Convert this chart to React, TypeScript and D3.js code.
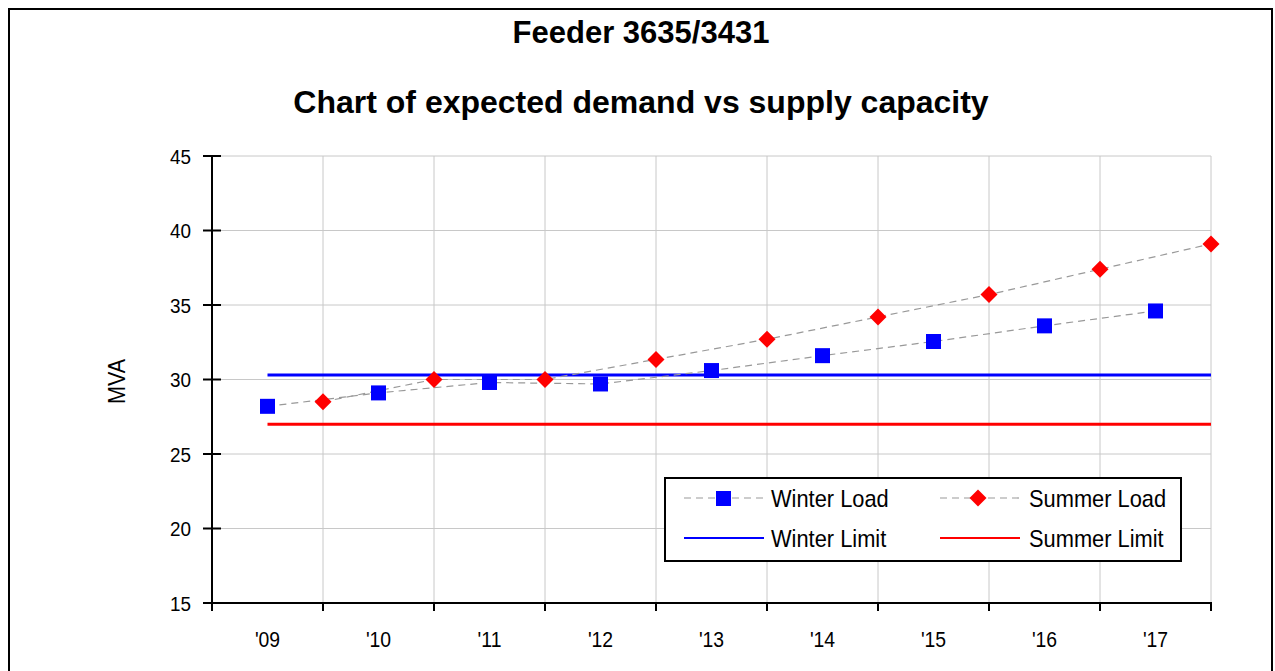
import React from "react";
import * as d3 from "d3";

const years = [2009, 2010, 2011, 2012, 2013, 2014, 2015, 2016, 2017];
const yearLabels = ["'09", "'10", "'11", "'12", "'13", "'14", "'15", "'16", "'17"];
const winterLoad = [28.2, 29.1, 29.8, 29.7, 30.6, 31.6, 32.55, 33.6, 34.6];
const summerLoad = [28.5, 30.0, 30.0, 31.35, 32.7, 34.2, 35.7, 37.4, 39.1];
const winterLimit = 30.3;
const summerLimit = 27.0;
const yTicks = [15, 20, 25, 30, 35, 40, 45];

const W = 1275;
const H = 671;
const left = 212, right = 1211, top = 156, bottom = 603;

const arial = "'Liberation Sans', Arial, sans-serif";

function NText(props: { x: number; y: number; size: number; sx?: number; anchor?: string; children: React.ReactNode }) {
  const sx = props.sx ?? 0.9;
  return (
    <text
      transform={`translate(${props.x},${props.y}) scale(${sx},1)`}
      textAnchor={props.anchor ?? "start"}
      fontFamily={arial}
      fontSize={props.size}
      fill="#000"
    >
      {props.children}
    </text>
  );
}

export default function App() {
  const x = d3.scaleLinear().domain([2008.5, 2017.5]).range([left, right]);
  const y = d3.scaleLinear().domain([15, 45]).range([bottom, top]);

  const winterPts: [number, number][] = years.map((yr, i) => [x(yr), y(winterLoad[i])]);
  const summerPts: [number, number][] = years.map((yr, i) => [x(yr + 0.5), y(summerLoad[i])]);
  const line = d3.line();
  const gridX = d3.range(2008.5, 2017.6, 1);

  const diamond = (cx: number, cy: number, r: number) =>
    `M${cx},${cy - r}L${cx + r},${cy}L${cx},${cy + r}L${cx - r},${cy}Z`;

  const limitX0 = x(years[0]);
  const limitX1 = x(2017.5);

  return (
    <svg width={W} height={H} style={{ position: "absolute", left: 0, top: 0, background: "#fff" }}>
      <rect x={9} y={9} width={1263} height={H} fill="#fff" stroke="#000" strokeWidth={2} />
      <text x={641} y={43} textAnchor="middle" fontFamily={arial} fontWeight="bold" fontSize={31}>
        Feeder 3635/3431
      </text>
      <text x={641} y={113} textAnchor="middle" fontFamily={arial} fontWeight="bold" fontSize={32}>
        Chart of expected demand vs supply capacity
      </text>

      {/* gridlines */}
      {yTicks.map((t) => (
        <line key={"gy" + t} x1={left} x2={right} y1={y(t)} y2={y(t)} stroke="#c8c8c8" strokeWidth={1} />
      ))}
      {gridX.map((g) => (
        <line key={"gx" + g} x1={x(g)} x2={x(g)} y1={top} y2={bottom} stroke="#c8c8c8" strokeWidth={1} />
      ))}

      {/* limits */}
      <line x1={limitX0} x2={limitX1} y1={y(winterLimit)} y2={y(winterLimit)} stroke="#0000ff" strokeWidth={3} />
      <line x1={limitX0} x2={limitX1} y1={y(summerLimit)} y2={y(summerLimit)} stroke="#ff0000" strokeWidth={3} />

      {/* load lines */}
      <path d={line(winterPts) || ""} fill="none" stroke="#999" strokeWidth={1.2} strokeDasharray="7,5" />
      <path d={line(summerPts) || ""} fill="none" stroke="#999" strokeWidth={1.2} strokeDasharray="7,5" />
      {winterPts.map(([cx, cy], i) => (
        <rect key={"w" + i} x={cx - 7.5} y={cy - 7.5} width={15} height={15} fill="#0000ff" />
      ))}
      {summerPts.map(([cx, cy], i) => (
        <path key={"s" + i} d={diamond(cx, cy, 8.5)} fill="#ff0000" />
      ))}

      {/* axes */}
      <line x1={left} x2={left} y1={top} y2={bottom + 8} stroke="#000" strokeWidth={2} />
      <line x1={left - 1} x2={right + 1} y1={bottom} y2={bottom} stroke="#000" strokeWidth={2} />
      {yTicks.map((t) => (
        <g key={"yt" + t}>
          <line x1={left - 9} x2={left + 9} y1={y(t)} y2={y(t)} stroke="#000" strokeWidth={2} />
          <NText x={left - 21} y={y(t) + 7.5} size={21} anchor="end">
            {t}
          </NText>
        </g>
      ))}
      {gridX.map((g) => (
        <line key={"xt" + g} x1={x(g)} x2={x(g)} y1={bottom} y2={bottom + 8} stroke="#000" strokeWidth={2} />
      ))}
      {years.map((yr, i) => (
        <NText key={"xl" + yr} x={x(yr)} y={bottom + 44} size={22} sx={0.88} anchor="middle">
          {yearLabels[i]}
        </NText>
      ))}
      <text
        transform={`translate(125,${(top + bottom) / 2 + 2}) rotate(-90) scale(0.9,1)`}
        textAnchor="middle"
        fontFamily={arial}
        fontSize={24}
      >
        MVA
      </text>

      {/* legend */}
      <rect x={665} y={478} width={516} height={83} fill="#fff" stroke="#000" strokeWidth={2} />
      <line x1={684} x2={764} y1={498} y2={498} stroke="#999" strokeWidth={1.2} strokeDasharray="7,5" />
      <rect x={716} y={491} width={15} height={15} fill="#0000ff" />
      <NText x={771} y={507} size={24} sx={0.91}>Winter Load</NText>
      <line x1={940} x2={1020} y1={498} y2={498} stroke="#999" strokeWidth={1.2} strokeDasharray="7,5" />
      <path d={diamond(978, 498, 8.5)} fill="#ff0000" />
      <NText x={1029} y={507} size={24} sx={0.91}>Summer Load</NText>
      <line x1={684} x2={764} y1={538} y2={538} stroke="#0000ff" strokeWidth={2} />
      <NText x={771} y={547} size={24} sx={0.91}>Winter Limit</NText>
      <line x1={940} x2={1020} y1={538} y2={538} stroke="#ff0000" strokeWidth={2} />
      <NText x={1029} y={547} size={24} sx={0.91}>Summer Limit</NText>
    </svg>
  );
}
